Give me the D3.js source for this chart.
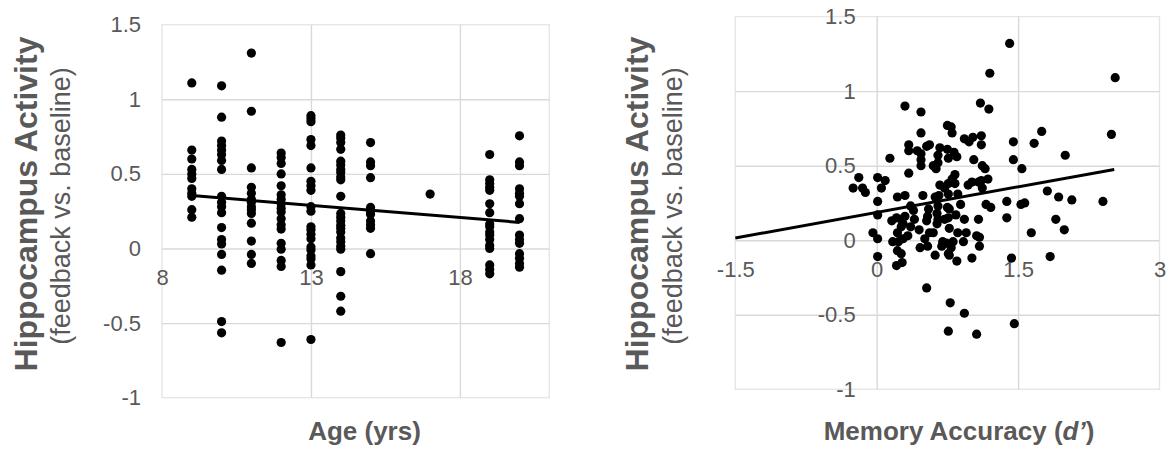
<!DOCTYPE html>
<html lang="en">
<head>
  <meta charset="UTF-8">
  <title>hippocampus scatter</title>
  <script src="https://d3js.org/d3.v7.min.js"></script>
  <style>
    body { margin: 0; background: #fff; }
  </style>
</head>
<body>
<script>
  // left panel: activity by age group
  const ageGroups = [9, 10, 11, 12, 13, 14, 15, 17, 19, 20];
  const activityByAge = [
    [1.11, 0.66, 0.60, 0.53, 0.50, 0.47, 0.40, 0.37, 0.35, 0.26, 0.21],
    [1.09, 0.88, 0.72, 0.69, 0.66, 0.63, 0.59, 0.53, 0.35, 0.31, 0.28, 0.24, 0.14, 0.06, 0.03, -0.04, -0.145, -0.49, -0.565],
    [1.31, 0.92, 0.54, 0.41, 0.37, 0.33, 0.31, 0.28, 0.26, 0.235, 0.17, 0.05, -0.04, -0.10],
    [0.64, 0.61, 0.57, 0.50, 0.42, 0.36, 0.33, 0.30, 0.27, 0.245, 0.20, 0.16, 0.13, 0.035, -0.005, -0.08, -0.12, -0.63],
    [0.89, 0.87, 0.85, 0.73, 0.69, 0.54, 0.45, 0.42, 0.39, 0.28, 0.25, 0.145, 0.125, 0.095, 0.065, 0.01, -0.01, -0.05, -0.07, -0.11, -0.61],
    [0.76, 0.74, 0.71, 0.665, 0.585, 0.56, 0.53, 0.51, 0.48, 0.46, 0.35, 0.235, 0.21, 0.185, 0.155, 0.135, 0.11, 0.07, 0.045, 0.015, -0.005, -0.155, -0.32, -0.42],
    [0.71, 0.58, 0.555, 0.475, 0.275, 0.25, 0.23, 0.185, 0.16, 0.135, -0.035],
    [0.365],
    [0.63, 0.46, 0.435, 0.41, 0.39, 0.30, 0.24, 0.165, 0.145, 0.11, 0.09, 0.06, 0.02, 0.0, -0.11, -0.14, -0.17],
    [0.755, 0.58, 0.555, 0.40, 0.37, 0.35, 0.30, 0.20, 0.09, 0.06, 0.035, -0.035, -0.065, -0.10, -0.125]
  ];
  const ageTrendX = [9, 20];
  const ageTrendY = [0.355, 0.175];
  const ageTicks = [8, 13, 18];

  // right panel: activity by memory accuracy (d')
  const dAccuracy = [
    0.30, 0.47, 1.10, 1.19, 0.47, 0.75, 0.79, 0.80, 0.93, 0.98, 1.02, 1.11, 1.11, 0.34, 0.34, 0.56, 0.53, 0.43, 0.47, 0.67,
    0.75, 0.82, 0.85, 0.65, 0.76, 0.47, 0.47, 0.60, 0.63, 0.65, 0.14, 1.03, 1.12, 1.15, 0.34, 0.83, 0.80, -0.19, 0.01, 0.09,
    -0.25, -0.15, -0.12, 0.05, 0.67, 0.72, 0.76, 0.83, 0.97, 1.01, 1.08, 1.11, 1.18, 1.12, 0.01, 0.22, 0.30, 0.49, 0.62, 0.66,
    0.76, 0.86, 1.16, 1.21, 0.36, 0.39, 0.55, 0.54, 0.65, 0.64, 0.65, 0.64, 0.75, 0.77, 0.89, 0.84, 0.93, 1.08, 0.01, 0.16,
    0.21, 0.26, 0.30, 0.28, 0.26, 0.36, 0.40, 0.45, 0.53, 0.56, 0.60, 0.72, 0.76, 0.77, 0.86, 0.95, 1.06, 1.09, -0.04, 0.01,
    0.22, 0.17, 0.23, 0.28, 0.33, 0.51, 0.54, 0.46, 0.70, 0.69, 0.74, 0.81, 0.79, 0.76, 0.92, 1.09, 0.01, 0.22, 0.26, 0.62,
    0.77, 0.85, 1.01, 0.21, 0.27, 0.53, 0.78, 0.93, 0.76, 1.06, 1.41, 1.20, 2.53, 1.45, 1.75, 1.67, 2.49, 1.45, 1.54, 2.00,
    1.81, 1.93, 2.07, 2.40, 1.38, 1.53, 1.57, 1.38, 1.90, 1.99, 1.64, 1.43, 1.84, 1.46
  ];
  const dActivity = [
    0.90, 0.86, 0.92, 0.88, 0.72, 0.77, 0.76, 0.72, 0.68, 0.66, 0.69, 0.70, 0.64, 0.64, 0.60, 0.64, 0.63, 0.60, 0.58, 0.62,
    0.61, 0.59, 0.56, 0.57, 0.55, 0.54, 0.50, 0.50, 0.48, 0.52, 0.55, 0.54, 0.50, 0.48, 0.45, 0.44, 0.41, 0.42, 0.42, 0.40,
    0.35, 0.35, 0.32, 0.35, 0.37, 0.35, 0.38, 0.38, 0.37, 0.39, 0.39, 0.40, 0.41, 0.35, 0.26, 0.29, 0.30, 0.30, 0.29, 0.30,
    0.31, 0.31, 0.24, 0.22, 0.23, 0.20, 0.21, 0.16, 0.23, 0.18, 0.14, 0.11, 0.22, 0.21, 0.24, 0.17, 0.14, 0.14, 0.17, 0.13,
    0.15, 0.14, 0.16, 0.11, 0.09, 0.09, 0.14, 0.07, 0.13, 0.05, 0.05, 0.14, 0.15, 0.08, 0.05, 0.05, 0.03, 0.02, 0.05, 0.01,
    0.05, -0.01, -0.01, 0.01, 0.03, 0.01, -0.04, -0.05, -0.01, -0.04, -0.02, -0.01, -0.05, -0.09, -0.01, -0.04, -0.11, -0.07, -0.09, -0.10,
    -0.10, -0.14, -0.12, -0.17, -0.15, -0.32, -0.42, -0.49, -0.61, -0.63, 1.32, 1.12, 1.09, 0.66, 0.73, 0.65, 0.71, 0.54, 0.48, 0.57,
    0.33, 0.29, 0.27, 0.26, 0.26, 0.24, 0.25, 0.15, 0.14, 0.07, 0.05, -0.12, -0.11, -0.56
  ];
  const dTrendX = [-1.5, 2.52];
  const dTrendY = [0.015, 0.475];
  const dTicks = [-1.5, 0, 1.5, 3];

  const activityTicks = [-1, -0.5, 0, 0.5, 1, 1.5];

  const FONT = '"Liberation Sans", Arial, sans-serif';
  const GREY = '#595959';

  const svg = d3.select('body').append('svg')
    .attr('width', 1166).attr('height', 452)
    .attr('viewBox', [0, 0, 1166, 452]);

  function drawPanel(cfg) {
    const { x, y, xTicks, yTicks, yCross, points, trendX, trendY } = cfg;
    const [xa, xb] = x.range();
    const [yb, ya] = y.range();
    const [dx0, dx1] = x.domain();
    const [dy0, dy1] = y.domain();
    const g = svg.append('g');

    // plot area border
    g.append('rect')
      .attr('x', xa).attr('y', ya)
      .attr('width', xb - xa).attr('height', yb - ya)
      .attr('fill', 'none')
      .attr('stroke', '#e6e6e6')
      .attr('stroke-width', 1.4);

    // gridlines
    g.append('g')
      .attr('transform', `translate(0,${ yb })`)
      .call(d3.axisBottom(x).tickValues(xTicks.filter(t => t > dx0 && t < dx1)).tickSize(-(yb - ya)).tickFormat(''))
      .call(g => g.select('.domain').remove())
      .call(g => g.selectAll('line').attr('stroke', '#d9d9d9').attr('stroke-width', 1.4));
    g.append('g')
      .attr('transform', `translate(${ xa },0)`)
      .call(d3.axisLeft(y).tickValues(yTicks.filter(t => t > dy0 && t < dy1)).tickSize(-(xb - xa)).tickFormat(''))
      .call(g => g.select('.domain').remove())
      .call(g => g.selectAll('line').attr('stroke', '#d9d9d9').attr('stroke-width', 1.4));

    // tick labels, axes cross at y = 0 and x = yCross
    const labelStyle = g => g
      .attr('font-family', FONT)
      .attr('font-size', 22)
      .call(g => g.select('.domain').remove())
      .call(g => g.selectAll('text').attr('fill', GREY));

    g.append('g')
      .attr('transform', `translate(0,${ y(0) })`)
      .call(d3.axisBottom(x).tickValues(xTicks).tickSize(0).tickPadding(21).tickFormat(d => String(d)))
      .call(labelStyle);
    g.append('g')
      .attr('transform', `translate(${ x(yCross) },0)`)
      .call(d3.axisLeft(y).tickValues(yTicks).tickSize(0).tickPadding(21).tickFormat(d => String(d)))
      .call(labelStyle);

    g.append('g')
      .attr('fill', '#000')
      .selectAll('circle')
      .data(points)
      .join('circle')
      .attr('cx', d => x(d[0]))
      .attr('cy', d => y(d[1]))
      .attr('r', 4.6);

    g.append('path')
      .datum(trendX.map((v, i) => [v, trendY[i]]))
      .attr('fill', 'none')
      .attr('stroke', '#000')
      .attr('stroke-width', 3)
      .attr('d', d3.line().x(d => x(d[0])).y(d => y(d[1])));

    // axis titles
    g.append('text')
      .attr('transform', `translate(${ cfg.titleX },204) rotate(-90)`)
      .attr('text-anchor', 'middle')
      .attr('font-family', FONT)
      .attr('font-size', 32)
      .attr('font-weight', 'bold')
      .attr('fill', GREY)
      .text('Hippocampus Activity');
    g.append('text')
      .attr('transform', `translate(${ cfg.titleX + 33.5 },206) rotate(-90)`)
      .attr('text-anchor', 'middle')
      .attr('font-family', FONT)
      .attr('font-size', 27)
      .attr('fill', GREY)
      .text('(feedback vs. baseline)');

    const xt = g.append('text')
      .attr('x', cfg.xTitleX)
      .attr('y', 440)
      .attr('text-anchor', 'middle')
      .attr('font-family', FONT)
      .attr('font-size', 26)
      .attr('font-weight', 'bold')
      .attr('fill', GREY);
    cfg.xTitle(xt);
  }

  const agePoints = ageGroups.flatMap((a, i) => activityByAge[i].map(v => [a, v]));

  drawPanel({
    x: d3.scaleLinear().domain([8, 21]).range([162, 549.3]),
    y: d3.scaleLinear().domain([-1, 1.5]).range([397.7, 24.7]),
    xTicks: ageTicks,
    yTicks: activityTicks,
    yCross: 8,
    points: agePoints,
    trendX: ageTrendX,
    trendY: ageTrendY,
    titleX: 36.5,
    xTitleX: 364.5,
    xTitle: t => t.text('Age (yrs)')
  });

  drawPanel({
    x: d3.scaleLinear().domain([-1.5, 3]).range([735.3, 1159.5]),
    y: d3.scaleLinear().domain([-1, 1.5]).range([389.3, 16.6]),
    xTicks: dTicks,
    yTicks: activityTicks,
    yCross: 0,
    points: dAccuracy.map((v, i) => [v, dActivity[i]]),
    trendX: dTrendX,
    trendY: dTrendY,
    titleX: 648,
    xTitleX: 959,
    xTitle: t => {
      t.append('tspan').text('Memory Accuracy (');
      t.append('tspan').attr('font-style', 'italic').text('d\u2019');
      t.append('tspan').text(')');
    }
  });
</script>
</body>
</html>
